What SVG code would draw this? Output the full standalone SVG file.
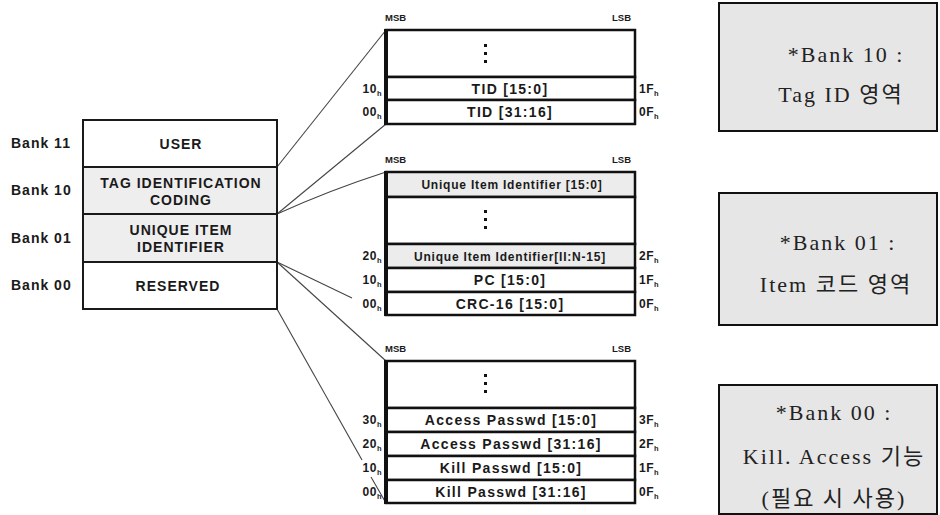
<svg xmlns="http://www.w3.org/2000/svg" width="940" height="515" viewBox="0 0 940 515">
  <style>
    .bank { font-family: "Liberation Sans", Arial, sans-serif; font-weight: bold; font-size: 14px; letter-spacing: 1px; fill: #1a1a1a; }
    .word { font-family: "Liberation Sans", Arial, sans-serif; font-weight: bold; font-size: 14px; letter-spacing: 1px; fill: #1a1a1a; text-anchor: middle; }
    .cell { font-family: "Liberation Sans", Arial, sans-serif; font-weight: bold; font-size: 14px; letter-spacing: 1.3px; fill: #1a1a1a; text-anchor: middle; }
    .cell.small { font-size: 12px; letter-spacing: 0.8px; }
    .addr { font-family: "Liberation Sans", Arial, sans-serif; font-weight: bold; font-size: 12px; letter-spacing: 0.5px; fill: #1a1a1a; }
    .sub { font-size: 7.5px; }
    .bit { font-family: "Liberation Sans", Arial, sans-serif; font-weight: bold; font-size: 9.5px; fill: #1a1a1a; }
    .stack { fill: #ffffff; stroke: #1a1a1a; stroke-width: 2; }
    .stack.grey { fill: #eeeeee; }
    .row { fill: #ffffff; stroke: #111111; stroke-width: 2.5; }
    .row.grey { fill: #ececec; }
    .spine { stroke: #111111; stroke-width: 4; }
    .edge { fill: none; stroke: #444444; stroke-width: 1.1; }
    .note { fill: #e6e6e6; stroke: #111111; stroke-width: 2; }
    .ntext { font-family: "Liberation Serif", "Noto Sans CJK KR", serif; font-size: 22px; letter-spacing: 2px; fill: #222222; text-anchor: middle; }
    .dot { fill: #111111; }
  </style>
  <rect width="940" height="515" fill="#ffffff"/>

  <!-- connectors between the bank stack and the memory maps -->
  <g id="connectors">
    <line class="edge" x1="277" y1="167" x2="386" y2="30"/>
    <line class="edge" x1="277" y1="214" x2="386" y2="124"/>
    <path class="edge" d="M277 214 Q330 190 386 172"/>
    <line class="edge" x1="277" y1="262" x2="352" y2="298"/>
    <line class="edge" x1="277" y1="262" x2="386" y2="361"/>
    <line class="edge" x1="277" y1="309" x2="362" y2="460"/>
    <line class="edge" x1="371" y1="477" x2="386" y2="503"/>
  </g>

  <!-- bank stack -->
  <g id="bank-stack">
    <text class="bank" x="11" y="148">Bank 11</text>
    <text class="bank" x="11" y="195">Bank 10</text>
    <text class="bank" x="11" y="243">Bank 01</text>
    <text class="bank" x="11" y="290">Bank 00</text>
    <g id="bank11">
      <rect class="stack" x="83" y="120" width="194" height="47"/>
      <text class="word" x="181" y="149" letter-spacing="1.2">USER</text>
    </g>
    <g id="bank10">
      <rect class="stack grey" x="83" y="167" width="194" height="47"/>
      <text class="word" x="181" y="188" letter-spacing="0.8">TAG IDENTIFICATION</text>
      <text class="word" x="181" y="205">CODING</text>
    </g>
    <g id="bank01">
      <rect class="stack grey" x="83" y="214" width="194" height="48"/>
      <text class="word" x="181" y="235">UNIQUE ITEM</text>
      <text class="word" x="181" y="252">IDENTIFIER</text>
    </g>
    <g id="bank00">
      <rect class="stack" x="83" y="262" width="194" height="47"/>
      <text class="word" x="178" y="291" letter-spacing="1.5">RESERVED</text>
    </g>
  </g>

  <!-- TID memory map -->
  <g id="tid-map">
    <text class="bit" x="385" y="21">MSB</text>
    <text class="bit" x="631" y="21" text-anchor="end">LSB</text>
    <rect class="row" x="386" y="30" width="249" height="47"/>
    <rect class="dot" x="484" y="44" width="3" height="3"/>
    <rect class="dot" x="484" y="52" width="3" height="3"/>
    <rect class="dot" x="484" y="60" width="3" height="3"/>
    <rect class="row" x="386" y="77" width="249" height="23"/>
    <text class="cell" x="510" y="94">TID [15:0]</text>
    <rect class="row" x="386" y="100" width="249" height="24"/>
    <text class="cell" x="510" y="117">TID [31:16]</text>
    <line class="spine" x1="386" y1="29" x2="386" y2="125"/>
    <text class="addr" x="382" y="93" text-anchor="end">10<tspan class="sub" dy="3">h</tspan></text>
    <text class="addr" x="382" y="116" text-anchor="end">00<tspan class="sub" dy="3">h</tspan></text>
    <text class="addr" x="639" y="93">1F<tspan class="sub" dy="3">h</tspan></text>
    <text class="addr" x="639" y="116">0F<tspan class="sub" dy="3">h</tspan></text>
  </g>

  <!-- UII memory map -->
  <g id="uii-map">
    <text class="bit" x="385" y="163">MSB</text>
    <text class="bit" x="631" y="163" text-anchor="end">LSB</text>
    <rect class="row grey" x="386" y="172" width="249" height="25"/>
    <text class="cell small" x="512" y="189">Unique Item Identifier [15:0]</text>
    <rect class="row" x="386" y="197" width="249" height="47"/>
    <rect class="dot" x="484" y="210" width="3" height="3"/>
    <rect class="dot" x="484" y="218" width="3" height="3"/>
    <rect class="dot" x="484" y="226" width="3" height="3"/>
    <rect class="row grey" x="386" y="244" width="249" height="24"/>
    <text class="cell small" x="510" y="261">Unique Item Identifier[II:N-15]</text>
    <rect class="row" x="386" y="268" width="249" height="24"/>
    <text class="cell" x="510" y="285">PC [15:0]</text>
    <rect class="row" x="386" y="292" width="249" height="23"/>
    <text class="cell" x="510" y="309">CRC-16 [15:0]</text>
    <line class="spine" x1="386" y1="171" x2="386" y2="316"/>
    <text class="addr" x="382" y="260" text-anchor="end">20<tspan class="sub" dy="3">h</tspan></text>
    <text class="addr" x="382" y="284" text-anchor="end">10<tspan class="sub" dy="3">h</tspan></text>
    <text class="addr" x="382" y="308" text-anchor="end">00<tspan class="sub" dy="3">h</tspan></text>
    <text class="addr" x="639" y="260">2F<tspan class="sub" dy="3">h</tspan></text>
    <text class="addr" x="639" y="284">1F<tspan class="sub" dy="3">h</tspan></text>
    <text class="addr" x="639" y="308">0F<tspan class="sub" dy="3">h</tspan></text>
  </g>

  <!-- reserved memory map -->
  <g id="reserved-map">
    <text class="bit" x="385" y="352">MSB</text>
    <text class="bit" x="631" y="352" text-anchor="end">LSB</text>
    <rect class="row" x="386" y="361" width="249" height="47"/>
    <rect class="dot" x="484" y="374" width="3" height="3"/>
    <rect class="dot" x="484" y="382" width="3" height="3"/>
    <rect class="dot" x="484" y="390" width="3" height="3"/>
    <rect class="row" x="386" y="408" width="249" height="24"/>
    <text class="cell" x="511" y="425">Access Passwd [15:0]</text>
    <rect class="row" x="386" y="432" width="249" height="24"/>
    <text class="cell" x="511" y="449">Access Passwd [31:16]</text>
    <rect class="row" x="386" y="456" width="249" height="24"/>
    <text class="cell" x="511" y="473">Kill Passwd [15:0]</text>
    <rect class="row" x="386" y="480" width="249" height="23"/>
    <text class="cell" x="511" y="497">Kill Passwd [31:16]</text>
    <line class="spine" x1="386" y1="360" x2="386" y2="504"/>
    <text class="addr" x="382" y="424" text-anchor="end">30<tspan class="sub" dy="3">h</tspan></text>
    <text class="addr" x="382" y="448" text-anchor="end">20<tspan class="sub" dy="3">h</tspan></text>
    <text class="addr" x="382" y="472" text-anchor="end">10<tspan class="sub" dy="3">h</tspan></text>
    <text class="addr" x="382" y="496" text-anchor="end">00<tspan class="sub" dy="3">h</tspan></text>
    <text class="addr" x="639" y="424">3F<tspan class="sub" dy="3">h</tspan></text>
    <text class="addr" x="639" y="448">2F<tspan class="sub" dy="3">h</tspan></text>
    <text class="addr" x="639" y="472">1F<tspan class="sub" dy="3">h</tspan></text>
    <text class="addr" x="639" y="496">0F<tspan class="sub" dy="3">h</tspan></text>
  </g>

  <!-- explanatory notes -->
  <g id="note-bank10">
    <rect class="note" x="719" y="3" width="218" height="128"/>
    <text class="ntext" x="846" y="62">*Bank 10 :</text>
    <text class="ntext" x="841" y="102">Tag ID 영역</text>
  </g>
  <g id="note-bank01">
    <rect class="note" x="719" y="193" width="218" height="132"/>
    <text class="ntext" x="838" y="250">*Bank 01 :</text>
    <text class="ntext" x="836" y="292">Item 코드 영역</text>
  </g>
  <g id="note-bank00">
    <rect class="note" x="719" y="385" width="218" height="129"/>
    <text class="ntext" x="834" y="420">*Bank 00 :</text>
    <text class="ntext" x="834" y="464">Kill. Access 기능</text>
    <text class="ntext" x="834" y="506">(필요 시 사용)</text>
  </g>
</svg>
